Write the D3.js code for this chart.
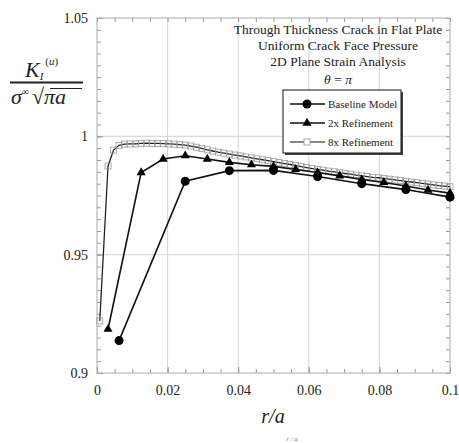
<!DOCTYPE html>
<html><head><meta charset="utf-8">
<script src="https://cdn.jsdelivr.net/npm/d3@7"></script>
<style>body{margin:0;background:#fff}svg{display:block}text{font-family:"Liberation Serif","DejaVu Serif",serif}</style>
</head><body><svg id="c" width="459" height="443"></svg>
<script>
const xTicks = [0, 0.02, 0.04, 0.06, 0.08, 0.1];
const xTickLabels = ["0", "0.02", "0.04", "0.06", "0.08", "0.1"];
const yTicks = [0.9, 0.95, 1, 1.05];
const yTickLabels = ["0.9", "0.95", "1", "1.05"];
const seriesNames = ["Baseline Model", "2x Refinement", "8x Refinement"];
const titleLines = ["Through Thickness Crack in Flat Plate", "Uniform Crack Face Pressure", "2D Plane Strain Analysis"];

const baseX = [0.00625, 0.025, 0.0375, 0.05, 0.0625, 0.075, 0.0875, 0.1];
const baseY = [0.9137, 0.981, 0.9855, 0.9856, 0.983, 0.98, 0.9775, 0.9743];

const ref2X = [0.003125, 0.0125, 0.01875, 0.025, 0.03125, 0.0375, 0.04375, 0.05, 0.05625, 0.0625, 0.06875, 0.075, 0.08125, 0.0875, 0.09375, 0.1];
const ref2Y = [0.9185, 0.9847, 0.9904, 0.9918, 0.9904, 0.989, 0.988, 0.9873, 0.986, 0.9847, 0.9833, 0.9818, 0.9805, 0.979, 0.9773, 0.976];

const ref8X = [0.00078125, 0.003125, 0.0046875, 0.00625, 0.0078125, 0.009375, 0.0109375, 0.0125, 0.0140625, 0.015625,
  0.0171875, 0.01875, 0.0203125, 0.021875, 0.0234375, 0.025, 0.0265625, 0.028125, 0.0296875, 0.03125,
  0.0328125, 0.034375, 0.0359375, 0.0375, 0.0390625, 0.040625, 0.0421875, 0.04375, 0.0453125, 0.046875,
  0.0484375, 0.05, 0.0515625, 0.053125, 0.0546875, 0.05625, 0.0578125, 0.059375, 0.0609375, 0.0625,
  0.0640625, 0.065625, 0.0671875, 0.06875, 0.0703125, 0.071875, 0.0734375, 0.075, 0.0765625, 0.078125,
  0.0796875, 0.08125, 0.0828125, 0.084375, 0.0859375, 0.0875, 0.0890625, 0.090625, 0.0921875, 0.09375,
  0.0953125, 0.096875, 0.0984375, 0.1];
const ref8Y = [0.922, 0.9875, 0.9942, 0.9962, 0.9967, 0.9968, 0.9968, 0.997, 0.9971, 0.997,
  0.997, 0.9969, 0.9968, 0.9967, 0.9965, 0.9963, 0.9959, 0.9954, 0.9949, 0.9943,
  0.9938, 0.9933, 0.9929, 0.9925, 0.9921, 0.9917, 0.9913, 0.9909, 0.9905, 0.9901,
  0.9897, 0.9893, 0.9889, 0.9885, 0.9881, 0.9877, 0.9872, 0.9868, 0.9864, 0.986,
  0.9857, 0.9853, 0.985, 0.9846, 0.9843, 0.984, 0.9836, 0.9833, 0.983, 0.9827,
  0.9825, 0.9822, 0.9819, 0.9816, 0.9813, 0.981, 0.9807, 0.9804, 0.9801, 0.9798,
  0.9795, 0.9792, 0.979, 0.9787];

const svg = d3.select("#c");
const L = 97, R = 450, T = 18, B = 373;
const x = d3.scaleLinear().domain([0, 0.1]).range([L, R]);
const y = d3.scaleLinear().domain([0.9, 1.05]).range([B, T]);

// gridlines
const g = svg.append("g");
g.selectAll(".vg").data(xTicks.slice(1, -1)).join("line")
  .attr("x1", d => x(d)).attr("x2", d => x(d)).attr("y1", T).attr("y2", B)
  .attr("stroke", "#d4d4d4").attr("stroke-width", 1);
g.selectAll(".hg").data(yTicks.slice(1, -1)).join("line")
  .attr("x1", L).attr("x2", R).attr("y1", d => y(d)).attr("y2", d => y(d))
  .attr("stroke", "#d4d4d4").attr("stroke-width", 1);

// axes with inward ticks
const xMinor = d3.range(0, 0.1001, 0.005);
const yMinor = d3.range(0.9, 1.0501, 0.005);
function axisStyle(sel) {
  sel.select(".domain").remove();
  sel.selectAll("line").attr("stroke", "#999");
  sel.selectAll("text").attr("font-size", "14px").attr("fill", "#222");
}
svg.append("g").attr("transform", `translate(0,${B})`)
  .call(d3.axisBottom(x).tickValues(xMinor).tickSize(-4).tickFormat(""))
  .call(axisStyle);
svg.append("g").attr("transform", `translate(0,${B})`)
  .call(d3.axisBottom(x).tickValues(xTicks).tickSize(-6).tickPadding(12).tickFormat((d, i) => xTickLabels[i]))
  .call(axisStyle);
svg.append("g").attr("transform", `translate(0,${T})`)
  .call(d3.axisTop(x).tickValues(xMinor).tickSize(-4).tickFormat(""))
  .call(axisStyle);
svg.append("g").attr("transform", `translate(${L},0)`)
  .call(d3.axisLeft(y).tickValues(yMinor).tickSize(-4).tickFormat(""))
  .call(axisStyle);
svg.append("g").attr("transform", `translate(${L},0)`)
  .call(d3.axisLeft(y).tickValues(yTicks).tickSize(-6).tickPadding(9).tickFormat((d, i) => yTickLabels[i]))
  .call(axisStyle);
svg.append("g").attr("transform", `translate(${R},0)`)
  .call(d3.axisRight(y).tickValues(yMinor).tickSize(-4).tickFormat(""))
  .call(axisStyle);

// frame
svg.append("rect").attr("x", L).attr("y", T).attr("width", R - L).attr("height", B - T)
  .attr("fill", "none").attr("stroke", "#aaa").attr("stroke-width", 1);

// series
const line = d3.line().x(d => x(d[0])).y(d => y(d[1]));
const s8 = ref8X.map((v, i) => [v, ref8Y[i]]);
const s2 = ref2X.map((v, i) => [v, ref2Y[i]]);
const s1 = baseX.map((v, i) => [v, baseY[i]]);

svg.append("path").datum(s8).attr("d", line).attr("fill", "none").attr("stroke", "#222").attr("stroke-width", 1.3);
svg.selectAll(".sq").data(s8).join("rect")
  .attr("x", d => x(d[0]) - 3).attr("y", d => y(d[1]) - 3).attr("width", 6).attr("height", 6)
  .attr("fill", "none").attr("stroke", "#999").attr("stroke-width", 0.8);

svg.append("path").datum(s2).attr("d", line).attr("fill", "none").attr("stroke", "#111").attr("stroke-width", 1.6);
const tri = d3.symbol().type(d3.symbolTriangle).size(36);
svg.selectAll(".tr").data(s2).join("path")
  .attr("d", tri).attr("transform", d => `translate(${x(d[0])},${y(d[1])})`).attr("fill", "#000");

svg.append("path").datum(s1).attr("d", line).attr("fill", "none").attr("stroke", "#111").attr("stroke-width", 1.6);
svg.selectAll(".ci").data(s1).join("circle")
  .attr("cx", d => x(d[0])).attr("cy", d => y(d[1])).attr("r", 4.5).attr("fill", "#000");

// title
svg.selectAll(".ttl").data(titleLines).join("text")
  .attr("x", 338).attr("y", (d, i) => 34 + i * 16).attr("text-anchor", "middle")
  .attr("font-size", "13.5px").attr("fill", "#222").text(d => d);
const th = svg.append("text").attr("x", 338).attr("y", 84).attr("text-anchor", "middle")
  .attr("font-size", "13.5px").attr("font-style", "italic").attr("fill", "#222");
th.append("tspan").text("θ");
th.append("tspan").attr("font-style", "normal").text(" = ");
th.append("tspan").text("π");

// legend
const lg = svg.append("g");
lg.append("rect").attr("x", 285).attr("y", 92).attr("width", 118).attr("height", 63).attr("fill", "#444");
lg.append("rect").attr("x", 283).attr("y", 90).attr("width", 118).attr("height", 63)
  .attr("fill", "#fff").attr("stroke", "#111").attr("stroke-width", 1);
const legY = [104, 123, 142];
seriesNames.forEach((name, i) => {
  const yy = legY[i];
  lg.append("line").attr("x1", 290).attr("x2", 325).attr("y1", yy).attr("y2", yy)
    .attr("stroke", "#111").attr("stroke-width", i === 2 ? 1.2 : 1.6);
  if (i === 0) lg.append("circle").attr("cx", 307).attr("cy", yy).attr("r", 4.5).attr("fill", "#000");
  if (i === 1) lg.append("path").attr("d", tri).attr("transform", `translate(307,${yy})`).attr("fill", "#000");
  if (i === 2) lg.append("rect").attr("x", 304).attr("y", yy - 3).attr("width", 6).attr("height", 6)
    .attr("fill", "#fff").attr("stroke", "#999").attr("stroke-width", 0.8);
  lg.append("text").attr("x", 328).attr("y", yy + 4).attr("font-size", "11px").attr("fill", "#222").text(name);
});

// y label fraction
const yl = svg.append("g").attr("fill", "#222");
const num = yl.append("text").attr("x", 25).attr("y", 77).attr("font-size", "22px").attr("font-style", "italic");
num.append("tspan").text("K");
num.append("tspan").attr("font-size", "11px").attr("dy", 3).text("I");
num.append("tspan").attr("font-size", "11px").attr("dy", -15).attr("dx", 2).attr("font-style", "normal").text("(");
num.append("tspan").attr("font-size", "11px").text("u");
num.append("tspan").attr("font-size", "11px").attr("font-style", "normal").text(")");
yl.append("line").attr("x1", 10).attr("x2", 83).attr("y1", 82.5).attr("y2", 82.5).attr("stroke", "#222").attr("stroke-width", 2.2);
const den = yl.append("text").attr("x", 11).attr("y", 104).attr("font-size", "22px").attr("font-style", "italic");
den.append("tspan").text("σ");
den.append("tspan").attr("font-size", "10px").attr("dy", -9).attr("font-style", "normal").text("∞");
den.append("tspan").attr("dy", 9).attr("dx", 3).attr("font-style", "normal").text("√");
den.append("tspan").text("πa");
yl.append("line").attr("x1", 50).attr("x2", 82).attr("y1", 88.5).attr("y2", 88.5).attr("stroke", "#222").attr("stroke-width", 1);

// x label
svg.append("text").attr("x", 273).attr("y", 423).attr("text-anchor", "middle")
  .attr("font-size", "20px").attr("font-style", "italic").attr("fill", "#222").text("r/a");
svg.append("text").attr("x", 292).attr("y", 441).attr("text-anchor", "middle")
  .attr("font-size", "7px").attr("font-style", "italic").attr("fill", "#777").text("r / a");
</script></body></html>
